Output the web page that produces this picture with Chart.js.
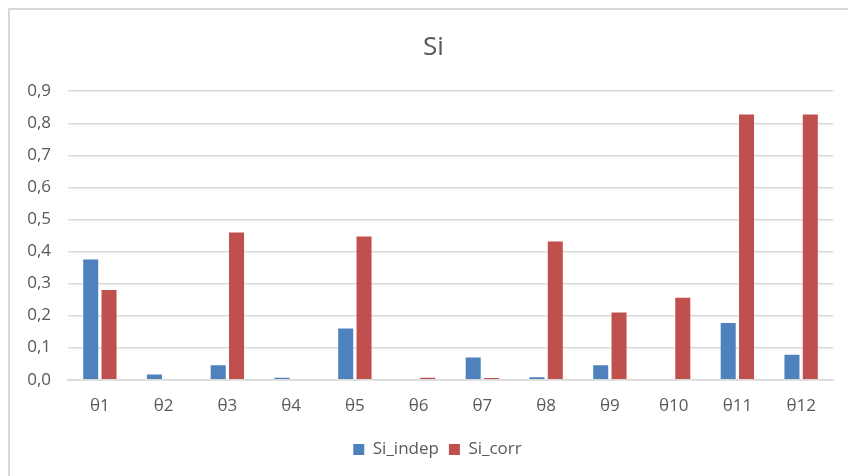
<!DOCTYPE html>
<html>
<head>
<meta charset="utf-8">
<script src="https://cdn.jsdelivr.net/npm/chart.js@4/dist/chart.umd.min.js"></script>
<style>
  html, body { margin: 0; padding: 0; background: #ffffff; }
  #wrap { position: relative; width: 848px; height: 476px; overflow: hidden; }
  #frame {
    position: absolute; left: 8px; top: 8px; width: 1000px; height: 1000px;
    border-left: 2px solid #d9d9d9; border-top: 2px solid #d9d9d9;
    pointer-events: none;
  }
  canvas { position: absolute; left: 0; top: 0; }
</style>
</head>
<body>
<div id="wrap">
  <canvas id="chart" width="848" height="476"></canvas>
  <div id="frame"></div>
</div>
<script>
// Parameters θ1..θ12 and their sensitivity indices
const categories = ['θ1', 'θ2', 'θ3', 'θ4', 'θ5', 'θ6', 'θ7', 'θ8', 'θ9', 'θ10', 'θ11', 'θ12'];
const siIndep = [0.375, 0.016, 0.045, 0.006, 0.160, 0, 0.069, 0.008, 0.045, 0, 0.177, 0.078];
const siCorr  = [0.280, 0, 0.459, 0, 0.447, 0.006, 0.005, 0.431, 0.210, 0.256, 0.827, 0.827];
const seriesNames = ['Si_indep', 'Si_corr'];
const chartTitle = 'Si';
const yTicks = [0, 0.1, 0.2, 0.3, 0.4, 0.5, 0.6, 0.7, 0.8, 0.9];

const FONT = '"Open Sans", Lato, "Liberation Sans", sans-serif';
const TEXT = '#595959';
const GRID = '#d9d9d9';

// Centre title and legend over the plot rather than the whole canvas
const centreOverPlot = {
  id: 'centreOverPlot',
  afterLayout(chart) {
    const shift = (box, dx) => { if (box) { box.left += dx; box.right += dx; } };
    shift(chart.titleBlock, 17);
    shift(chart.legend, 21);
  }
};

new Chart(document.getElementById('chart'), {
  type: 'bar',
  data: {
    labels: categories,
    datasets: [
      { label: seriesNames[0], data: siIndep, backgroundColor: '#4f81bd', borderWidth: 0 },
      { label: seriesNames[1], data: siCorr,  backgroundColor: '#c0504d', borderWidth: 0 }
    ]
  },
  plugins: [centreOverPlot],
  options: {
    responsive: false,
    animation: false,
    devicePixelRatio: 1,
    datasets: { bar: { categoryPercentage: 0.575, barPercentage: 0.82 } },
    layout: { padding: { left: 0, right: 15, top: 0, bottom: 8 } },
    plugins: {
      title: {
        display: true,
        text: chartTitle,
        color: TEXT,
        font: { family: FONT, size: 26, weight: 'normal' },
        padding: { top: 32, bottom: 28 }
      },
      legend: {
        position: 'bottom',
        labels: {
          color: TEXT,
          font: { family: FONT, size: 17 },
          boxWidth: 11,
          boxHeight: 11,
          padding: 10
        }
      },
      tooltip: { enabled: false }
    },
    scales: {
      x: {
        grid: { display: false, drawTicks: false },
        border: { display: true, color: GRID, width: 1.5 },
        ticks: { color: TEXT, font: { family: FONT, size: 17 }, padding: 16 },
        afterFit: s => { s.height = 51.3; }
      },
      y: {
        min: 0,
        max: 0.9,
        afterBuildTicks: s => { s.ticks = yTicks.map(v => ({ value: v })); },
        grid: { color: GRID, lineWidth: 1.5, drawTicks: false },
        border: { display: false },
        ticks: {
          color: TEXT,
          font: { family: FONT, size: 17 },
          padding: 17,
          callback: v => v.toFixed(1).replace('.', ',')
        },
        afterFit: s => { s.width = 68; }
      }
    }
  }
});
</script>
</body>
</html>
